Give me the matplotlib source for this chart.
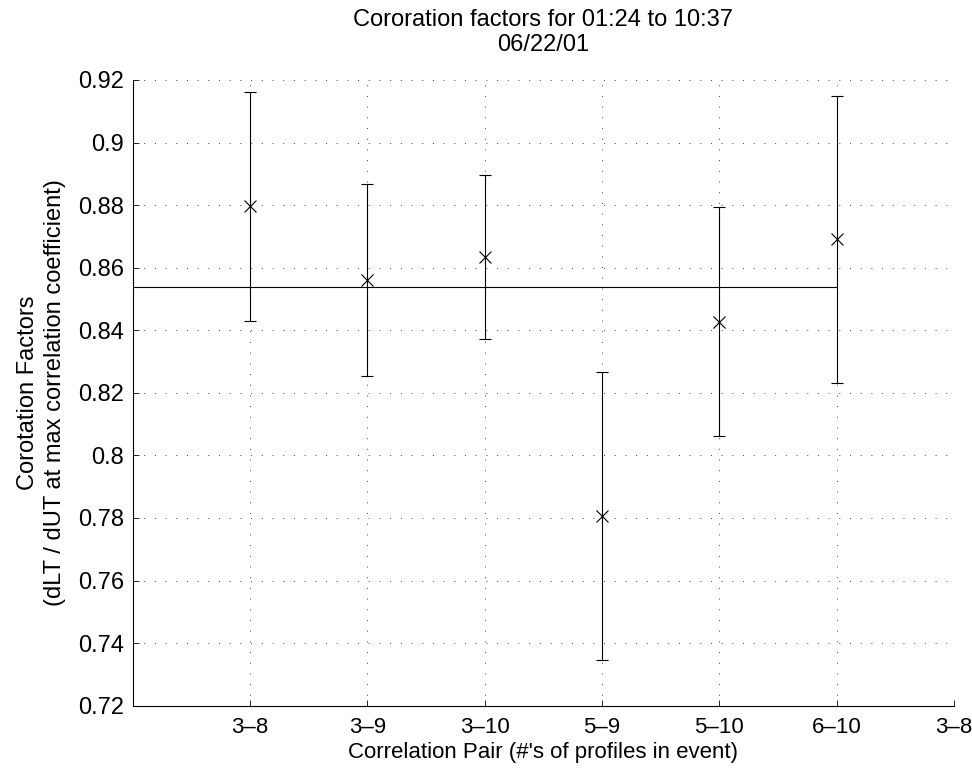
import numpy as np
import matplotlib.pyplot as plt
from matplotlib.ticker import FormatStrFormatter

plt.rcParams['font.family'] = ['Liberation Sans', 'DejaVu Sans']

# correlation pairs and read-off corotation factors
pairs = ['3-8', '3-9', '3-10', '5-9', '5-10', '6-10', '3-8']
factors = [0.8797, 0.8561, 0.8634, 0.7806, 0.8428, 0.8691]
upper = [0.9162, 0.8867, 0.8896, 0.8267, 0.8795, 0.9149]
lower = [0.8429, 0.8254, 0.8372, 0.7346, 0.8062, 0.8231]
mean_factor = 0.8537

x = np.arange(1, len(factors) + 1)
factors = np.array(factors)
yerr = [factors - np.array(lower), np.array(upper) - factors]

fig = plt.figure(figsize=(9.72, 7.69), dpi=100)
ax = fig.add_axes([0.1365, 0.0823, 0.845, 0.8137])

ax.errorbar(x, factors, yerr=yerr, fmt='x', color='black', ecolor='black',
            elinewidth=0.8, capsize=4, capthick=0.8, markersize=9, mew=0.8)
ax.plot([0, x[-1]], [mean_factor, mean_factor], color='black', lw=0.8)

ax.set_xlim(0, 7)
ax.set_ylim(0.72, 0.92)
ax.set_xticks(np.arange(1, 8))
ax.set_xticklabels([p.replace('-', '\u2013') for p in pairs])
ax.set_yticks(np.arange(0.72, 0.9201, 0.02))
ax.yaxis.set_major_formatter(FormatStrFormatter('%g'))
ax.tick_params(direction='in', length=4, width=0.6, labelsize=17)
ax.tick_params(axis='x', pad=8, labelsize=16)
ax.tick_params(axis='y', pad=6)

ax.grid(True, linestyle=(0, (1, 10)), color='#444444', linewidth=0.7)
ax.spines['top'].set_visible(False)
ax.spines['right'].set_visible(False)
for s in ('left', 'bottom'):
    ax.spines[s].set_linewidth(0.8)

ax.set_xlabel("Correlation Pair (#'s of profiles in event)", fontsize=16, labelpad=3)
ax.set_ylabel("Corotation Factors\n(dLT / dUT at max correlation coefficient)", fontsize=17,
              labelpad=9, linespacing=1.25)
ax.set_title("Cororation factors for 01:24 to 10:37\n06/22/01", fontsize=17, pad=21,
             linespacing=1.15)

fig.savefig('out.png', dpi=100)
